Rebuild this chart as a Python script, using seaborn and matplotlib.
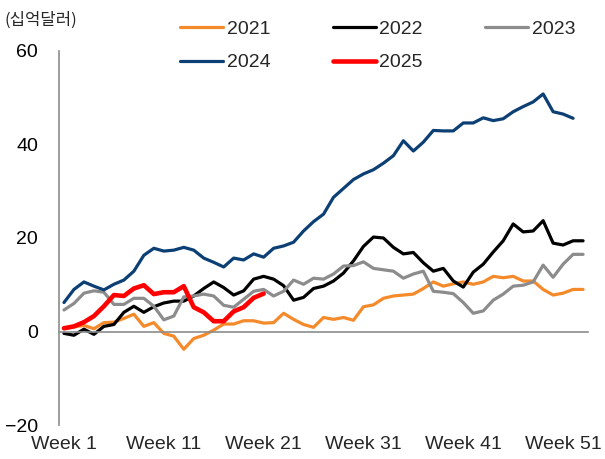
import matplotlib
matplotlib.use("Agg")
import matplotlib.pyplot as plt
import seaborn as sns
import pandas as pd
from matplotlib.lines import Line2D

# Cumulative weekly values (십억달러) by year
y2021 = [0.6, 1.0, 1.3, 0.6, 1.9, 2.0, 2.8, 3.7, 1.1, 1.9,
         -0.4, -1.0, -3.8, -1.5, -0.8, 0.3, 1.6, 1.6, 2.3, 2.3,
         1.8, 1.9, 3.9, 2.6, 1.5, 0.9, 3.0, 2.6, 3.0, 2.4,
         5.3, 5.7, 7.1, 7.6, 7.8, 8.0, 9.2, 10.6, 9.7, 10.2,
         10.6, 10.1, 10.6, 11.8, 11.5, 11.8, 10.8, 10.8, 9.0, 7.8,
         8.2, 9.0, 9.0]
y2022 = [-0.4, -0.8, 0.5, -0.6, 1.1, 1.5, 4.1, 5.4, 4.1, 5.3,
         6.1, 6.5, 6.5, 7.6, 9.2, 10.6, 9.4, 7.8, 8.7, 11.2,
         11.8, 11.2, 9.8, 6.7, 7.3, 9.2, 9.7, 10.8, 12.5, 15.1,
         18.2, 20.2, 20.0, 18.0, 16.6, 16.9, 14.7, 12.9, 13.5, 10.8,
         9.5, 12.7, 14.4, 17.0, 19.4, 23.0, 21.3, 21.5, 23.7, 18.9,
         18.5, 19.4, 19.4]
y2023 = [4.6, 6.0, 8.2, 8.7, 8.4, 5.8, 5.8, 7.1, 7.1, 5.4,
         2.5, 3.3, 7.4, 7.6, 8.0, 7.6, 5.6, 5.2, 6.9, 8.6,
         9.0, 7.6, 8.6, 11.0, 10.1, 11.4, 11.2, 12.3, 14.0, 14.1,
         14.9, 13.5, 13.2, 12.9, 11.4, 12.3, 12.9, 8.6, 8.4, 8.1,
         6.2, 3.9, 4.4, 6.7, 8.0, 9.7, 9.9, 10.6, 14.2, 11.6,
         14.4, 16.5, 16.5]
y2024 = [6.2, 9.0, 10.6, 9.7, 8.9, 10.1, 11.0, 12.9, 16.3, 17.8,
         17.2, 17.4, 18.0, 17.4, 15.7, 14.8, 13.8, 15.7, 15.3, 16.6,
         15.9, 17.8, 18.3, 19.1, 21.5, 23.5, 25.1, 28.7, 30.6, 32.5,
         33.7, 34.6, 36.0, 37.6, 40.8, 38.6, 40.5, 43.0, 42.9, 42.9,
         44.6, 44.6, 45.7, 45.1, 45.5, 47.0, 48.1, 49.1, 50.8, 47.0,
         46.5, 45.6]
y2025 = [0.7, 1.1, 2.0, 3.3, 5.4, 7.8, 7.6, 9.2, 9.9, 8.0,
         8.4, 8.4, 9.7, 5.2, 4.1, 2.2, 2.2, 4.3, 5.2, 7.2,
         8.1]

years = ["2021", "2022", "2023", "2024", "2025"]
series = [y2021, y2022, y2023, y2024, y2025]
colors = ["#F58A2A", "#000000", "#8C8C8C", "#0C3F74", "#FF0000"]
widths = [2.3, 2.3, 2.3, 2.3, 3.3]

x_tick_weeks = [1, 11, 21, 31, 41, 51]
x_tick_labels = [f"Week {w}" for w in x_tick_weeks]
y_ticks = [-20, 0, 20, 40, 60]

frames = []
for yr, vals in zip(years, series):
    frames.append(pd.DataFrame({"week": range(1, len(vals) + 1),
                                "value": vals, "year": yr}))
df = pd.concat(frames, ignore_index=True)

sns.set_style("white")
plt.rcParams["font.family"] = ["Liberation Sans", "DejaVu Sans"]

fig = plt.figure(figsize=(6.05, 4.59), dpi=100)
ax = fig.add_axes([0.0975, 0.074, 0.8745, 0.815])

handles = {}
for yr, col, lw in zip(years, colors, widths):
    sub = df[df["year"] == yr]
    sns.lineplot(data=sub, x="week", y="value", ax=ax, color=col,
                 linewidth=lw, legend=False)
    handles[yr] = Line2D([0], [0], color=col, lw=lw)

ax.set_xlim(0.5, 53.5)
ax.set_ylim(-20, 60)
ax.set_xlabel("")
ax.set_ylabel("")

grey = "#8C8C8C"
for s in ["top", "right"]:
    ax.spines[s].set_visible(False)
ax.spines["left"].set_color(grey)
ax.spines["left"].set_linewidth(1.2)
ax.spines["bottom"].set_position(("data", 0))
ax.spines["bottom"].set_color(grey)
ax.spines["bottom"].set_linewidth(1.2)

ax.set_yticks(y_ticks)
ax.set_yticklabels([f"{v}".replace("-", "\u2212") for v in y_ticks])
ax.tick_params(axis="y", direction="in", length=4, width=1.2, color=grey,
               pad=15, labelsize=14, labelcolor="black")
ax.set_xticks([10.5, 20.5, 30.5, 40.5, 50.5])
ax.tick_params(axis="x", direction="in", length=4, width=1.2, color=grey,
               labelbottom=False)

sec = ax.secondary_xaxis(0)
sec.spines["bottom"].set_visible(False)
sec.set_xticks(x_tick_weeks)
sec.set_xticklabels(x_tick_labels)
sec.tick_params(axis="x", length=0, pad=8, labelsize=14)

fig.text(5 / 605, 1 - 20 / 459, "(십억달러)", fontsize=12, va="center",
         ha="left", family=["Noto Sans CJK KR", "DejaVu Sans"])

# legend filled column by column: rows read 2021 2022 2023 / 2024 2025
legend_order = ["2021", "2024", "2022", "2025", "2023"]
fig.legend([handles[k] for k in legend_order], legend_order,
           loc="upper left", bbox_to_anchor=(0.298, 0.955),
           ncol=3, frameon=False, fontsize=14, handlelength=2.2,
           handletextpad=0.2, columnspacing=3.2, labelspacing=0.8,
           borderpad=0, borderaxespad=0)

fig.savefig("out.png", dpi=100)
